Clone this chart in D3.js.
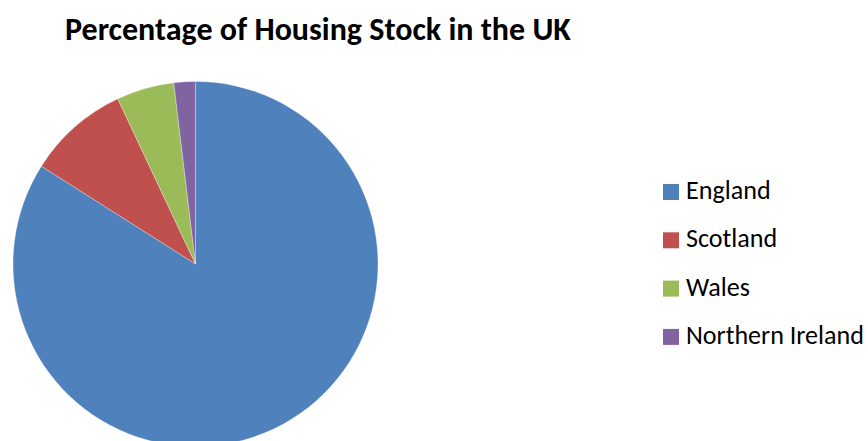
<!DOCTYPE html>
<html>
<head>
<meta charset="utf-8">
<script src="https://cdn.jsdelivr.net/npm/d3@7"></script>
<style>
  html, body { margin: 0; padding: 0; background: #fff; }
  svg { display: block; }
</style>
</head>
<body>
<svg id="chart" width="868" height="441"></svg>
<script>
// Share of UK housing stock by nation (%)
const categories = ["England", "Scotland", "Wales", "Northern Ireland"];
const values = [84.0, 9.0, 5.1, 1.9];
const colors = ["#4F81BD", "#C0504D", "#9BBB59", "#8064A2"];
const titleText = "Percentage of Housing Stock in the UK";

const svg = d3.select("#chart");
const cx = 195.5, cy = 264, radius = 182.5;
const fontFamily = "Carlito, Calibri, 'Liberation Sans', Arial, sans-serif";

// Title, fitted to its target width
const title = svg.append("text")
  .attr("x", 65)
  .attr("y", 40)
  .attr("font-family", fontFamily)
  .attr("font-weight", "bold")
  .attr("font-size", 22)
  .attr("fill", "#000")
  .text(titleText);
const tw = title.node().getComputedTextLength();
title.attr("font-size", 22 * 506 / tw);

// Pie, starting at 12 o'clock and running clockwise
const pie = d3.pie().sort(null).value(d => d);
const arc = d3.arc().innerRadius(0).outerRadius(radius);
const color = d3.scaleOrdinal().domain(categories).range(colors);

const g = svg.append("g").attr("transform", `translate(${cx},${cy})`);
g.selectAll("path")
  .data(pie(values))
  .join("path")
  .attr("d", arc)
  .attr("fill", (d, i) => color(categories[i]))
  .attr("stroke", "#ffffff")
  .attr("stroke-opacity", 0.5)
  .attr("stroke-width", 0.6);

// Legend
const legend = svg.append("g").attr("transform", "translate(663,199)");
const rows = legend.selectAll("g")
  .data(categories)
  .join("g")
  .attr("transform", (d, i) => `translate(0,${i * 48.3})`);
rows.append("rect")
  .attr("x", 0)
  .attr("y", -15)
  .attr("width", 16)
  .attr("height", 16)
  .attr("fill", d => color(d));
const labels = rows.append("text")
  .attr("x", 23)
  .attr("y", 0)
  .attr("font-family", fontFamily)
  .attr("font-size", 20)
  .attr("fill", "#000")
  .text(d => d);
// size legend text so the longest label spans its target width
const longest = d3.max(labels.nodes(), n => n.getComputedTextLength());
labels.attr("font-size", 20 * 178 / longest);
</script>
</body>
</html>
